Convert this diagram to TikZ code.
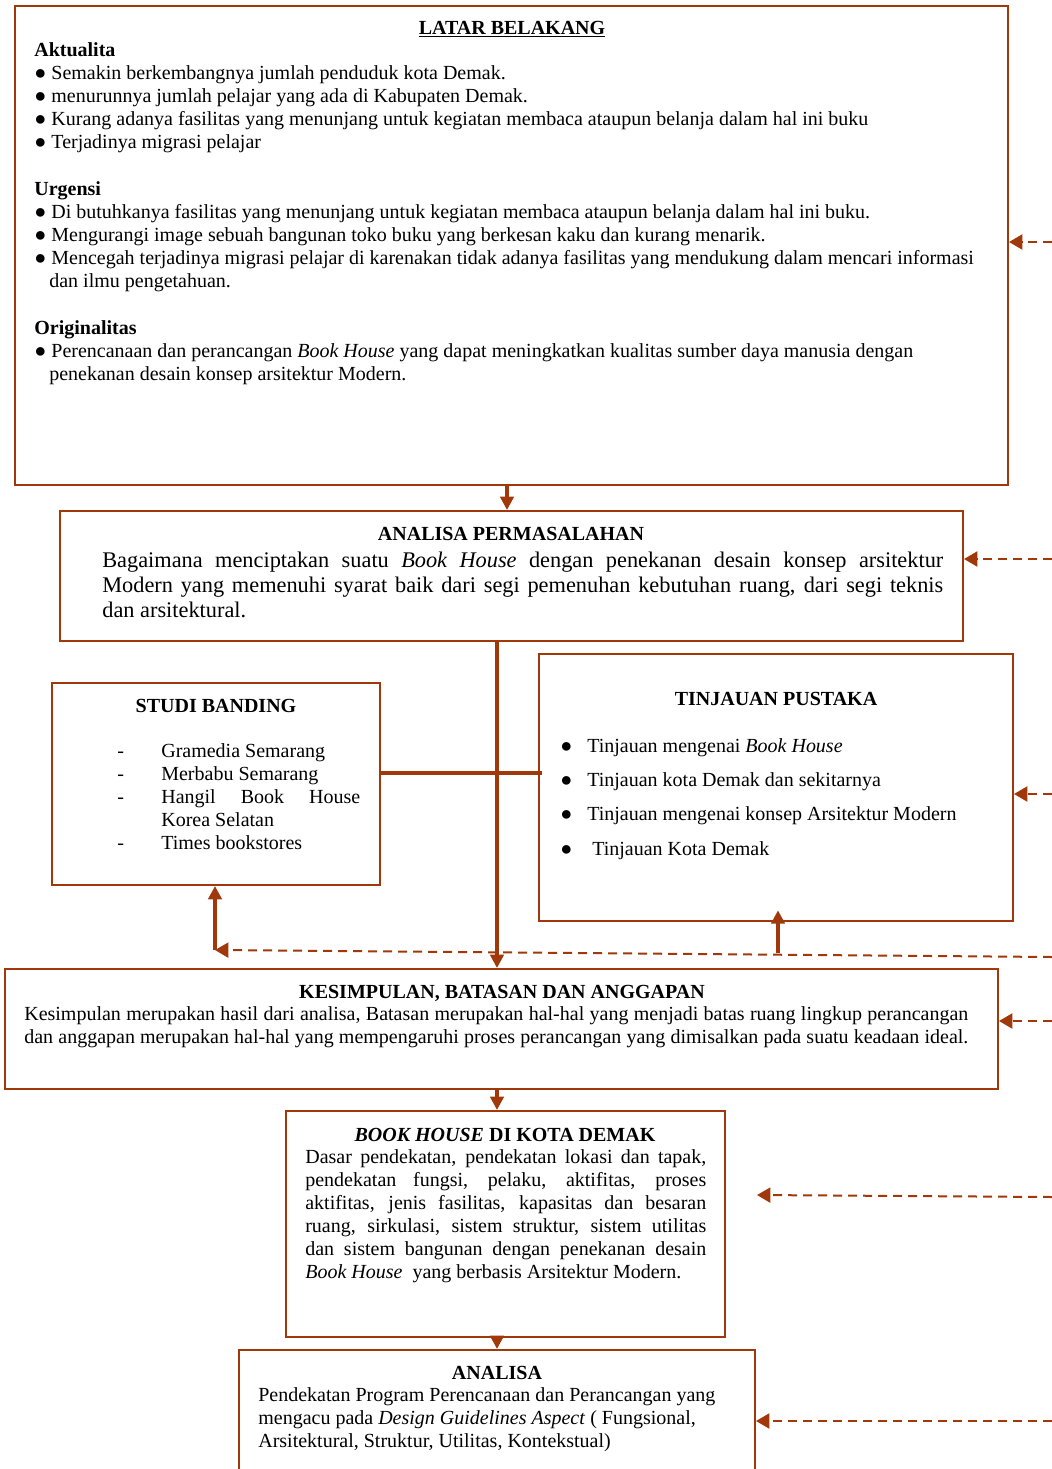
\documentclass[tikz,border=0pt]{standalone}
\usepackage{fontspec}
\setmainfont{Liberation Serif}
\usetikzlibrary{arrows.meta,fit}
\definecolor{rust}{HTML}{A0380A}
\newcommand{\fullline}[2]{\makebox[#1][s]{#2}}
\newcommand{\dashitem}[1]{\makebox[26.4pt][l]{-}#1}
\newcommand{\tinjitem}[1]{\makebox[16.2pt][l]{●}#1}

\begin{document}
\begin{tikzpicture}[x=0.6pt, y=-0.6pt,
	frame/.style = {draw=rust, line width=1.2pt, inner sep=0pt},
	flow/.style = {draw=rust, line width=2pt, -{Triangle[length=8pt,width=8pt]}},
	link/.style = {draw=rust, line width=2pt},
	back/.style = {draw=rust, line width=1.2pt, dash pattern=on 5.4pt off 3.6pt, -{Triangle[length=8pt,width=9pt]}},
	head/.style = {font=\fontsize{12}{13.9}\selectfont\bfseries, anchor=base, inner sep=0pt},
	body/.style = {font=\fontsize{12}{13.9}\selectfont, anchor=base west, inner sep=0pt, align=justify}]

	\useasboundingbox (0,0) rectangle (1052,1469);

	% boxes
	\node[frame, fit={(15,6) (1008,485)}] (latar) {};
	\node[frame, fit={(60,511) (963,641)}] (perm) {};
	\node[frame, fit={(52,683) (380,885)}] (studi) {};
	\node[frame, fit={(539,654) (1013,921)}] (tinjau) {};
	\node[frame, fit={(5,969) (998,1089)}] (kes) {};
	\node[frame, fit={(286,1111) (725,1337)}] (book) {};
	\node[frame, fit={(239,1350) (755,1495)}] (ana) {};

	% texts
	\node[head] (latarhead) at (512,34) {\underline{LATAR BELAKANG}};
	\node[body, text width=590pt] (latartext) at (34,56) {\textbf{Aktualita}\\
		● Semakin berkembangnya jumlah penduduk kota Demak.\\
		● menurunnya jumlah pelajar yang ada di Kabupaten Demak.\\
		● Kurang adanya fasilitas yang menunjang untuk kegiatan membaca ataupun belanja dalam hal ini buku\\
		● Terjadinya migrasi pelajar\\[13.9pt]
		\textbf{Urgensi}\\
		● Di butuhkanya fasilitas yang menunjang untuk kegiatan membaca ataupun belanja dalam hal ini buku.\\
		● Mengurangi image sebuah bangunan toko buku yang berkesan kaku dan kurang menarik.\\
		● Mencegah terjadinya migrasi pelajar di karenakan tidak adanya fasilitas yang mendukung dalam mencari informasi\\
		\hspace*{9pt}dan ilmu pengetahuan.\\[13.9pt]
		\textbf{Originalitas}\\
		● Perencanaan dan perancangan \textit{Book House} yang dapat meningkatkan kualitas sumber daya manusia\ dengan\\
		\hspace*{9pt}penekanan desain konsep arsitektur Modern.};

	\node[head] (permhead) at (511,540) {ANALISA PERMASALAHAN};
	\node[body, text width=504.6pt, font=\fontsize{13.4}{15}\selectfont] (permtext) at (102,567) {%
		\fullline{504.6pt}{Bagaimana menciptakan suatu \textit{Book House} dengan penekanan desain konsep arsitektur}\\
		\fullline{504.6pt}{Modern yang memenuhi syarat baik dari segi pemenuhan kebutuhan ruang, dari segi teknis}\\
		dan arsitektural.};

	\node[head] (studihead) at (216,712) {STUDI BANDING};
	\node[body, text width=160pt] (studitext) at (117,757) {\dashitem{Gramedia Semarang}\\
		\dashitem{Merbabu Semarang}\\
		\dashitem{\fullline{119.4pt}{Hangil Book House}}\\
		\hspace*{26.4pt}Korea Selatan\\
		\dashitem{Times bookstores}};

	\node[head] (tinjhead) at (776,705) {TINJAUAN PUSTAKA};
	\node[body, text width=270pt, font=\fontsize{12}{20.6}\selectfont] (tinjtext) at (560,752) {\tinjitem{Tinjauan mengenai \textit{Book House}}\\
		\tinjitem{Tinjauan kota Demak dan sekitarnya}\\
		\tinjitem{Tinjauan mengenai konsep Arsitektur Modern}\\
		\tinjitem{\hspace*{3pt}Tinjauan Kota Demak}};

	\node[head] (keshead) at (502,998) {KESIMPULAN, BATASAN DAN ANGGAPAN};
	\node[body, text width=570pt] (kestext) at (24,1020) {%
		\fullline{566.4pt}{Kesimpulan merupakan hasil dari analisa, Batasan merupakan hal-hal yang menjadi batas ruang lingkup perancangan}\\
		\fullline{566.4pt}{dan anggapan merupakan hal-hal yang mempengaruhi proses perancangan yang dimisalkan pada suatu keadaan ideal.}};

	\node[head] (bookhead) at (505,1141) {\textit{BOOK HOUSE} DI KOTA DEMAK};
	\node[body, text width=240.6pt] (booktext) at (305,1163) {%
		\fullline{240.6pt}{Dasar pendekatan, pendekatan lokasi dan tapak,}\\
		\fullline{240.6pt}{pendekatan fungsi, pelaku, aktifitas, proses}\\
		\fullline{240.6pt}{aktifitas, jenis fasilitas, kapasitas dan besaran}\\
		\fullline{240.6pt}{ruang, sirkulasi, sistem struktur, sistem utilitas}\\
		\fullline{240.6pt}{dan sistem bangunan dengan penekanan desain}\\
		\textit{Book House}\ \ yang berbasis Arsitektur Modern.};

	\node[head] (anahead) at (497,1379) {ANALISA};
	\node[body, text width=295pt] (anatext) at (258,1401) {Pendekatan Program Perencanaan dan Perancangan yang\\
		mengacu pada \textit{Design Guidelines Aspect} ( Fungsional,\\
		Arsitektural, Struktur, Utilitas, Kontekstual)};

	% main flow
	\coordinate (drop) at (507,0);
	\coordinate (stem) at (497,773);
	\coordinate (studiturn) at (215,950);
	\coordinate (tinjturn) at (778,953);
	\coordinate (bookin) at (757,1195);
	\draw[flow] (drop |- latar.south) -- (drop |- perm.north);
	\draw[flow] (stem |- perm.south) -- (stem |- kes.north);
	\draw[link] (studi.east |- stem) -- ([xshift=2.4pt]tinjau.west |- stem);
	\draw[flow] (studiturn) -- (studiturn |- studi.south);
	\draw[flow] (tinjturn) -- ([yshift=7pt]tinjturn |- tinjau.south);
	\draw[flow] (stem |- kes.south) -- (stem |- book.north);
	\draw[flow] (stem |- book.south) -- (stem |- ana.north);

	% feedback from the right
	\coordinate (r1) at (1052,242);
	\coordinate (r2) at (1052,559);
	\coordinate (r3) at (1052,794);
	\coordinate (r4) at (1052,957);
	\coordinate (r5) at (1052,1021);
	\coordinate (r6) at (1052,1197);
	\coordinate (r7) at (1052,1421);
	\draw[back] (r1) -- (latar.east |- r1);
	\draw[back] (r2) -- (perm.east |- r2);
	\draw[back] (r3) -- (tinjau.east |- r3);
	\draw[back] (r4) -- (studiturn);
	\draw[back] (r5) -- (kes.east |- r5);
	\draw[back] (r6) -- (bookin);
	\draw[back] (r7) -- (ana.east |- r7);
\end{tikzpicture}
\end{document}
